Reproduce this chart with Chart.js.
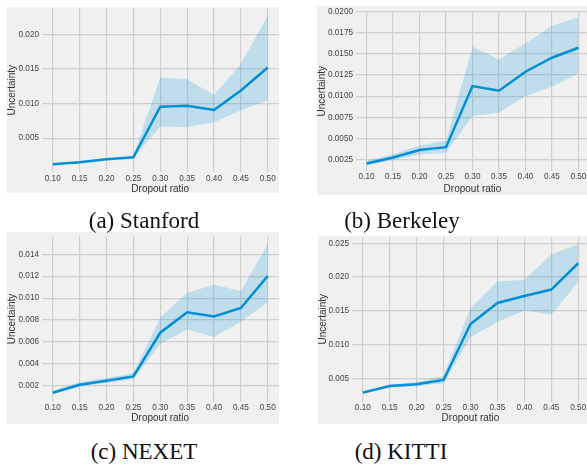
<!DOCTYPE html>
<html>
<head>
<meta charset="utf-8">
<script src="https://cdn.jsdelivr.net/npm/chart.js@4/dist/chart.umd.min.js"></script>
<style>
  html, body { margin:0; padding:0; background:#fff; width:587px; height:464px; overflow:hidden; position:relative; }
  .bg { position:absolute; background:#f0f0f0; }
  canvas { position:absolute; }
  .cap { position:absolute; font-family:'Liberation Serif','Times New Roman',serif; font-size:23px; color:#111; transform:translate(-50%,-50%); white-space:nowrap; }
</style>
</head>
<body>
<div class="bg" style="left:7px;top:7px;width:271.5px;height:186px"></div>
<div class="bg" style="left:317px;top:6px;width:270px;height:189px"></div>
<div class="bg" style="left:7px;top:232px;width:271.5px;height:192px"></div>
<div class="bg" style="left:318px;top:236px;width:269px;height:188px"></div>
<canvas id="cA" width="279" height="200" style="left:0px;top:0px"></canvas>
<canvas id="cB" width="294" height="200" style="left:295px;top:0px"></canvas>
<canvas id="cC" width="279" height="205" style="left:0px;top:225px"></canvas>
<canvas id="cD" width="294" height="205" style="left:295px;top:225px"></canvas>
<div class="cap" style="left:144px;top:221px">(a) Stanford</div>
<div class="cap" style="left:402px;top:221px">(b) Berkeley</div>
<div class="cap" style="left:144px;top:452px">(c) NEXET</div>
<div class="cap" style="left:401px;top:452px">(d) KITTI</div>
<script>
// ---- data ----
const dropout = [0.10, 0.15, 0.20, 0.25, 0.30, 0.35, 0.40, 0.45, 0.50];
const xTicks = [0.10, 0.15, 0.20, 0.25, 0.30, 0.35, 0.40, 0.45, 0.50];

const stanfordMean  = [0.00121, 0.00150, 0.00193, 0.00222, 0.00955, 0.00970, 0.00907, 0.01190, 0.01522];
const stanfordUpper = [0.00130, 0.00160, 0.00200, 0.00240, 0.01378, 0.01354, 0.01124, 0.01575, 0.02270];
const stanfordLower = [0.00112, 0.00140, 0.00185, 0.00210, 0.00668, 0.00659, 0.00730, 0.00903, 0.01047];

const berkeleyMean  = [0.00203, 0.00274, 0.00361, 0.00396, 0.01119, 0.01064, 0.01289, 0.01455, 0.01573];
const berkeleyUpper = [0.00234, 0.00313, 0.00416, 0.00471, 0.01585, 0.01435, 0.01625, 0.01834, 0.01933];
const berkeleyLower = [0.00179, 0.00242, 0.00309, 0.00329, 0.00764, 0.00803, 0.01001, 0.01111, 0.01269];

const nexetMean  = [0.00136, 0.00209, 0.00246, 0.00285, 0.00684, 0.00870, 0.00833, 0.00910, 0.01202];
const nexetUpper = [0.00154, 0.00233, 0.00270, 0.00316, 0.00824, 0.01050, 0.01123, 0.01065, 0.01494];
const nexetLower = [0.00124, 0.00191, 0.00227, 0.00258, 0.00581, 0.00715, 0.00645, 0.00785, 0.00964];

const kittiMean  = [0.00288, 0.00386, 0.00411, 0.00475, 0.01305, 0.01616, 0.01720, 0.01814, 0.02204];
const kittiUpper = [0.00312, 0.00406, 0.00446, 0.00535, 0.01537, 0.01937, 0.01957, 0.02332, 0.02490];
const kittiLower = [0.00268, 0.00362, 0.00382, 0.00426, 0.01107, 0.01335, 0.01503, 0.01443, 0.01927];

const yTicksA = [0.005, 0.010, 0.015, 0.020];
const yTicksB = [0.0025, 0.0050, 0.0075, 0.0100, 0.0125, 0.0150, 0.0175, 0.0200];
const yTicksC = [0.002, 0.004, 0.006, 0.008, 0.010, 0.012, 0.014];
const yTicksD = [0.005, 0.010, 0.015, 0.020, 0.025];

// ---- drawing ----
Chart.defaults.font.family = "'Liberation Sans', Arial, sans-serif";
const LINE = '#008fd5';
const BAND = 'rgba(0,143,213,0.2)';
const GRID = '#cfcfcf';

function pts(ys) { return dropout.map((x, i) => ({x: x, y: ys[i]})); }

function make(id, mean, upper, lower, yTicks, dec, g) {
  new Chart(document.getElementById(id), {
    type: 'line',
    data: {
      datasets: [
        {data: pts(mean), borderColor: LINE, borderWidth: 2.5, pointRadius: 0, fill: false, tension: 0},
        {data: pts(upper), borderWidth: 0, borderColor: 'rgba(0,0,0,0)', pointRadius: 0, fill: '+1', backgroundColor: BAND, tension: 0},
        {data: pts(lower), borderWidth: 0, borderColor: 'rgba(0,0,0,0)', pointRadius: 0, fill: false, tension: 0}
      ]
    },
    options: {
      responsive: false, animation: false, devicePixelRatio: 1,
      layout: {padding: {left: 0, top: g.padTop, right: g.padRight, bottom: 0}},
      plugins: {legend: {display: false}, tooltip: {enabled: false}},
      scales: {
        x: {
          type: 'linear', min: 0.08, max: 0.52,
          afterBuildTicks: (ax) => { ax.ticks = xTicks.map(v => ({value: v})); },
          afterFit: (ax) => { ax.height = g.xH; },
          grid: {color: GRID, lineWidth: 1.2, drawTicks: false},
          border: {display: false},
          ticks: {autoSkip: false, maxRotation: 0, padding: 1.5, color: '#444', font: {size: 8.2},
                  callback: (v) => Number(v).toFixed(2)},
          title: {display: true, text: 'Dropout ratio', color: '#333', font: {size: 10}, padding: {top: 0, bottom: g.xTitlePad}}
        },
        y: {
          type: 'linear', min: g.ymin, max: g.ymax,
          afterBuildTicks: (ax) => { ax.ticks = yTicks.map(v => ({value: v})); },
          afterFit: (ax) => { ax.width = g.yW; },
          grid: {color: GRID, lineWidth: 1.2, drawTicks: false},
          border: {display: false},
          ticks: {autoSkip: false, padding: 3, color: '#444', font: {size: 8.2},
                  callback: (v) => Number(v).toFixed(dec)},
          title: {display: true, text: 'Uncertainty', color: '#333', font: {size: 10}, padding: {top: g.yTitlePad, bottom: 0}}
        }
      }
    }
  });
}

make('cA', stanfordMean, stanfordUpper, stanfordLower, yTicksA, 3,
     {padTop: 7.5, padRight: 0.5, xH: 27.5, yW: 42, ymin: 0.00002, ymax: 0.02385, xTitlePad: 5, yTitlePad: 6});
make('cB', berkeleyMean, berkeleyUpper, berkeleyLower, yTicksB, 4,
     {padTop: 11.7, padRight: 0, xH: 29.3, yW: 61, ymin: 0.00117, ymax: 0.0200, xTitlePad: 4.7, yTitlePad: 21});
make('cC', nexetMean, nexetUpper, nexetLower, yTicksC, 3,
     {padTop: 11.5, padRight: 0.5, xH: 28.4, yW: 42, ymin: 0.000548, ymax: 0.01563, xTitlePad: 5.5, yTitlePad: 6});
make('cD', kittiMean, kittiUpper, kittiLower, yTicksD, 3,
     {padTop: 12, padRight: 0, xH: 28.5, yW: 57, ymin: 0.00156, ymax: 0.02593, xTitlePad: 5.5, yTitlePad: 22});
</script>
</body>
</html>
